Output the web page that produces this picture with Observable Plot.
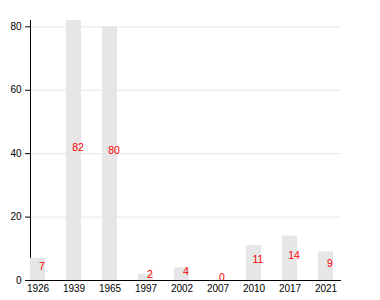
<!DOCTYPE html>
<html>
<head>
<meta charset="utf-8">
<script src="https://cdn.jsdelivr.net/npm/d3@7"></script>
<script src="https://cdn.jsdelivr.net/npm/@observablehq/plot@0.6"></script>
<style>
  html, body { margin: 0; padding: 0; background: #fff; }
  #chart svg { font-family: "Liberation Sans", Arial, sans-serif; }
</style>
</head>
<body>
<div id="chart"></div>
<script>
const years = ["1926", "1939", "1965", "1997", "2002", "2007", "2010", "2017", "2021"];
const values = [7, 82, 80, 2, 4, 0, 11, 14, 9];
const yTicks = [0, 20, 40, 60, 80];

const data = years.map((year, i) => ({year, value: values[i]}));

const chart = Plot.plot({
  width: 380,
  height: 300,
  marginTop: 20,
  marginBottom: 20,
  marginLeft: 30,
  marginRight: 39,
  style: {fontFamily: "Liberation Sans, Arial, sans-serif", fontSize: "10px", color: "#000", background: "#fff"},
  x: {type: "band", domain: years, paddingInner: 0.57, paddingOuter: 0, align: 0, label: null, tickSize: 0, tickPadding: 4},
  y: {domain: [0, 82], ticks: yTicks, label: null, tickSize: 5, tickPadding: 4, grid: true, line: true},
  marks: [
    Plot.barY(data, {x: "year", y: "value", fill: "#e6e6e6"}),
    Plot.text(data, {x: "year", y: d => d.value / 2, text: d => String(d.value), fill: "red", fontSize: 10.5, dx: 4, dy: -3}),
    Plot.ruleY([0], {stroke: "#000"})
  ]
});
document.getElementById("chart").appendChild(chart);
</script>
</body>
</html>
